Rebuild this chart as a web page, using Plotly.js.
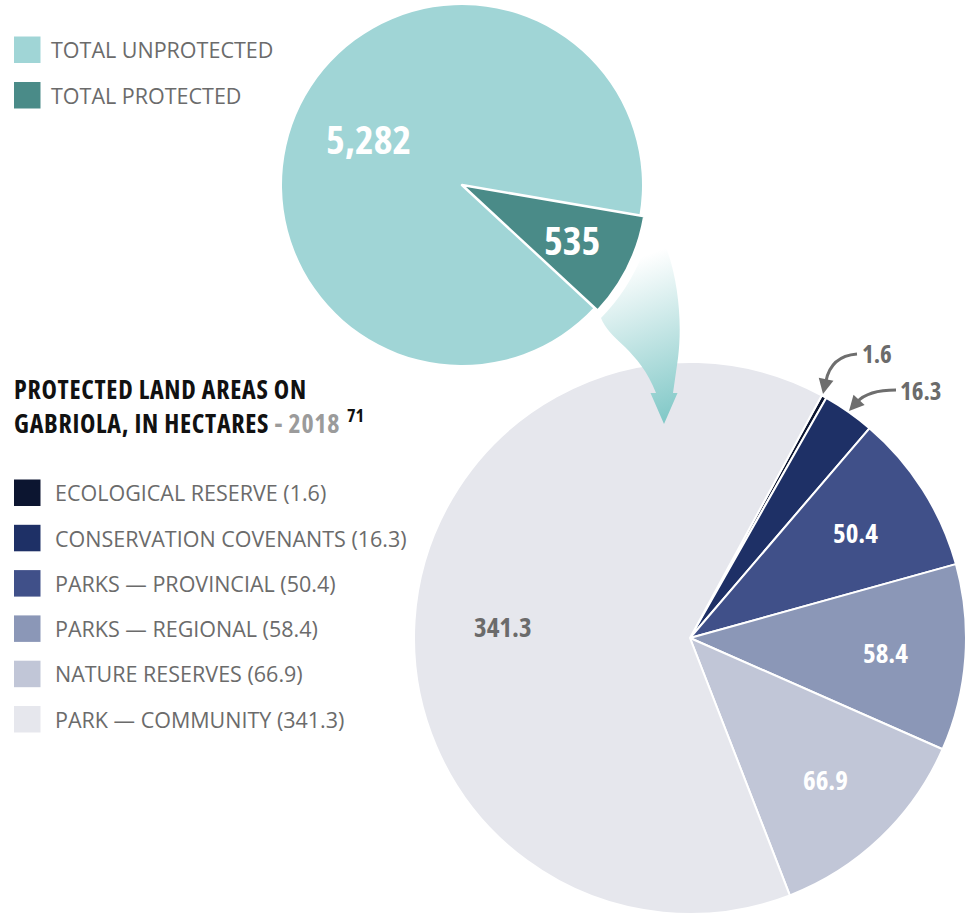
<!DOCTYPE html>
<html><head><meta charset="utf-8">
<script src="https://cdn.plot.ly/plotly-3.0.1.min.js"></script>
<style>html,body{margin:0;padding:0;background:#fff}</style>
</head><body><div id="chart" style="width:972px;height:917px"></div>
<script>
// ---- data ----
const overviewLabels = ['TOTAL UNPROTECTED', 'TOTAL PROTECTED'];
const overviewValues = [5282, 535];
const overviewColors = ['#a0d5d6', '#4a8b88'];

const areaLabels = ['ECOLOGICAL RESERVE', 'CONSERVATION COVENANTS', 'PARKS — PROVINCIAL', 'PARKS — REGIONAL', 'NATURE RESERVES', 'PARK — COMMUNITY'];
const areaValues = [1.6, 16.3, 50.4, 58.4, 66.9, 341.3];
const areaColors = ['#0c1530', '#1e3066', '#405089', '#8b97b7', '#c1c6d7', '#e6e7ed'];

const titleLines = ['PROTECTED LAND AREAS ON', 'GABRIOLA, IN HECTARES'];
const titleYear = '2018';
const titleNote = '71';

// ---- helpers ----
const W = 972, H = 917;
const px = x => x / W;
const py = y => 1 - y / H;
const NARROW = "'Open Sans', 'DejaVu Sans Condensed', sans-serif";
const cond = (s, ls) => '<span style="font-stretch:75%' + (ls ? ';letter-spacing:' + ls + 'px' : '') + '">' + s + '</span>';
const LEGFONT = "'Open Sans', 'Noto Sans', sans-serif";
const GREY = '#6b6b6b';

function domainFor(cx, cy, r) {
  return { x: [px(cx - r), px(cx + r)], y: [py(cy + r), py(cy - r)] };
}

const shapes = [];
const annotations = [];

// slice labels placed along each slice's bisector (angles computed from the values)
function sliceLabels(values, texts, rotation, cx, cy, r, fracFn, colorFn, size, skipFn) {
  const total = values.reduce((a, b) => a + b, 0);
  let acc = 0;
  values.forEach((v, i) => {
    const mid = (rotation + 360 * (acc + v / 2) / total) * Math.PI / 180;
    acc += v;
    if (skipFn(v, i)) return;
    const rr = r * fracFn(v / total, i);
    annotations.push({ xref: 'paper', yref: 'paper', x: px(cx + rr * Math.sin(mid)), y: py(cy - rr * Math.cos(mid)),
      xanchor: 'center', yanchor: 'middle', showarrow: false, text: cond(texts[i]),
      font: { family: NARROW, size: size, color: colorFn(i), weight: 700 } });
  });
}

// top (overview) pie, order: protected, unprotected
const ovOrder = [1, 0];
const ovVals = ovOrder.map(i => overviewValues[i]);
const ovCols = ovOrder.map(i => overviewColors[i]);
const ovText = ovOrder.map(i => overviewValues[i].toLocaleString('en-US'));
const TOP_ROT = 99.7;

const baseTop = {
  type: 'pie', values: ovVals, labels: ovOrder.map(i => overviewLabels[i]),
  sort: false, direction: 'clockwise', rotation: TOP_ROT,
  domain: domainFor(462, 185, 180),
  marker: { colors: ovCols, line: { color: '#fff', width: 0 } },
  textinfo: 'none', hoverinfo: 'label+value', showlegend: false
};
const overlayTop = {
  type: 'pie', values: ovVals, labels: ovOrder.map(i => overviewLabels[i]),
  sort: false, direction: 'clockwise', rotation: TOP_ROT,
  domain: domainFor(462, 185, 185),
  marker: { colors: [ovCols[0], 'rgba(0,0,0,0)'], line: { color: '#fff', width: [2.5, 0] } },
  textinfo: 'none', hoverinfo: 'label+value', showlegend: false
};
sliceLabels(ovVals, ovText, TOP_ROT, 462, 185, 180, share => share > 0.5 ? 0.58 : 0.68,
  () => '#ffffff', 40, () => false);

const areaText = areaValues.map(v => v.toFixed(1));
const lastIdx = areaValues.length - 1;
const BOT_ROT = 28.5;
const bottomPie = {
  type: 'pie', values: areaValues, labels: areaLabels,
  sort: false, direction: 'clockwise', rotation: BOT_ROT,
  domain: domainFor(690, 638, 276),
  marker: { colors: areaColors, line: { color: '#fff', width: 2 } },
  textinfo: 'none', hoverinfo: 'label+value', showlegend: false
};
sliceLabels(areaValues, areaText, BOT_ROT, 690, 638, 276, share => share > 0.5 ? 0.68 : 0.71,
  i => i === lastIdx ? GREY : '#ffffff', 27, v => v < 20);

// ---- custom legends (built from the arrays) ----
function addLegend(labels, colors, x0, y0, step, textX, size) {
  labels.forEach((lab, i) => {
    const top = y0 + i * step;
    shapes.push({ type: 'rect', xref: 'paper', yref: 'paper',
      x0: px(x0), x1: px(x0 + size), y0: py(top + size), y1: py(top),
      fillcolor: colors[i], line: { width: 0 } });
    annotations.push({ xref: 'paper', yref: 'paper', x: px(textX), y: py(top + size / 2),
      xanchor: 'left', yanchor: 'middle', showarrow: false, text: lab,
      font: { family: LEGFONT, size: 21.5, color: GREY } });
  });
}
addLegend(overviewLabels, overviewColors, 14, 36.5, 45.5, 49, 26.5);
addLegend(areaLabels.map((l, i) => l + ' (' + areaText[i] + ')'), areaColors, 14, 479.5, 45.3, 53, 26.5);

// title
annotations.push({ xref: 'paper', yref: 'paper', x: px(12), y: py(369), xanchor: 'left', yanchor: 'top',
  align: 'left', showarrow: false,
  text: cond(titleLines[0], 0.7) + '<br>' + cond(titleLines[1] + ' <span style="color:#9b9b9b">- ' + titleYear + '</span>', 0.7) + ' <sup>' + cond(titleNote) + '</sup>',
  font: { family: NARROW, size: 26, color: '#111111', weight: 700 } });

// small-slice callouts with curved arrows
function head(tip, from, len, hw) {
  const dx = tip[0] - from[0], dy = tip[1] - from[1];
  const d = Math.hypot(dx, dy), ux = dx / d, uy = dy / d;
  const bx = tip[0] - ux * len, by = tip[1] - uy * len;
  const p1 = [bx - uy * hw, by + ux * hw], p2 = [bx + uy * hw, by - ux * hw];
  return 'M' + px(tip[0]) + ',' + py(tip[1]) + ' L' + px(p1[0]) + ',' + py(p1[1]) + ' L' + px(p2[0]) + ',' + py(p2[1]) + ' Z';
}
const ARROW = '#6e6e6e';
function callout(start, ctrl, end, tip, labelXY, text) {
  shapes.push({ type: 'path', xref: 'paper', yref: 'paper', layer: 'above',
    path: 'M' + px(start[0]) + ',' + py(start[1]) + ' Q' + px(ctrl[0]) + ',' + py(ctrl[1]) + ' ' + px(end[0]) + ',' + py(end[1]),
    line: { color: ARROW, width: 3 } });
  shapes.push({ type: 'path', xref: 'paper', yref: 'paper', layer: 'above',
    path: head(tip, ctrl, 15, 7.5), fillcolor: ARROW, line: { width: 0 } });
  annotations.push({ xref: 'paper', yref: 'paper', x: px(labelXY[0]), y: py(labelXY[1]),
    xanchor: 'center', yanchor: 'middle', showarrow: false, text: cond(text),
    font: { family: NARROW, size: 25, color: GREY, weight: 700 } });
}
callout([857, 354], [831, 356], [826, 381], [823, 394], [877, 353], areaText[0]);
callout([896, 390], [868, 390], [857, 402], [849, 411], [921, 390], areaText[1]);

// gradient arrow from protected slice to the detail pie
const arrowSvg = '<svg xmlns="http://www.w3.org/2000/svg" width="120" height="240" viewBox="580 200 120 240">' +
  '<defs><linearGradient id="g" gradientUnits="userSpaceOnUse" x1="612" y1="268" x2="668" y2="418">' +
  '<stop offset="0" stop-color="#ffffff"/><stop offset="1" stop-color="#83c9c8"/></linearGradient></defs>' +
  '<path d="M 601 318 A 192 192 0 0 0 652 221 C 674 250 684 310 678 358 L 673 393 L 677.5 393 L 664 424 L 650.5 393 L 656 393 C 648 372 636 358 625 347 C 613 336 605 328 601 318 Z" fill="url(#g)"/></svg>';
const images = [{
  source: 'data:image/svg+xml;charset=utf-8,' + encodeURIComponent(arrowSvg),
  xref: 'paper', yref: 'paper', x: px(580), y: py(200), sizex: 120 / W, sizey: 240 / H,
  xanchor: 'left', yanchor: 'top', sizing: 'stretch', layer: 'above'
}];

const layout = {
  width: W, height: H, margin: { l: 0, r: 0, t: 0, b: 0 },
  paper_bgcolor: '#ffffff', plot_bgcolor: '#ffffff', showlegend: false,
  shapes: shapes, annotations: annotations, images: images
};
Plotly.newPlot('chart', [baseTop, overlayTop, bottomPie], layout, { displayModeBar: false, staticPlot: true });
</script></body></html>
